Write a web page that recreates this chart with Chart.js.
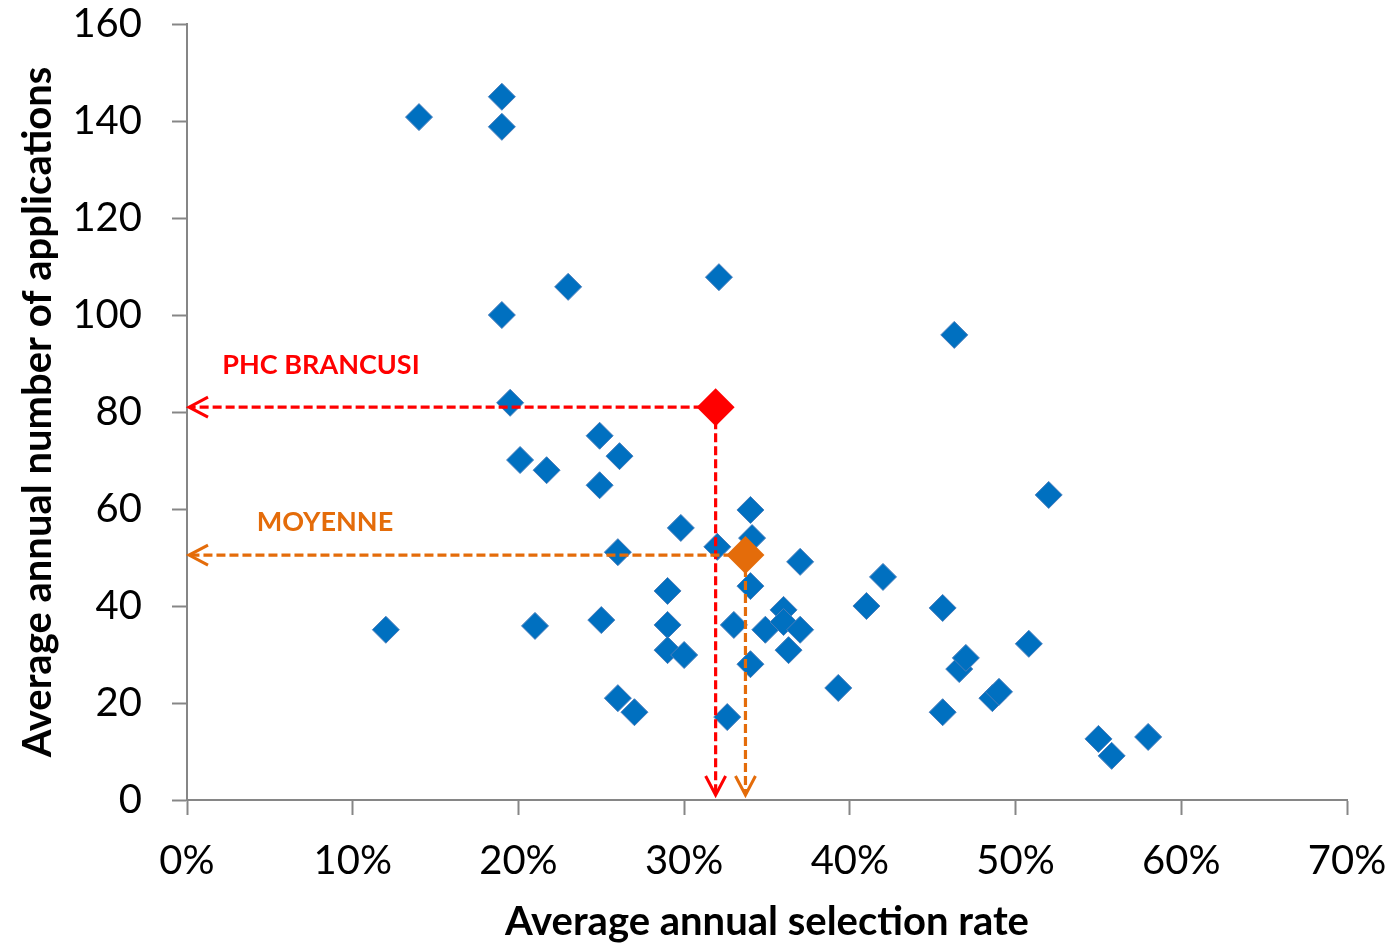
<!DOCTYPE html>
<html>
<head>
<meta charset="utf-8">
<title>Selection rate vs applications</title>
<script src="https://cdn.jsdelivr.net/npm/chart.js@4.4.1/dist/chart.umd.min.js"></script>
<style>
    html, body { margin: 0; padding: 0; background: #fff; }
    #wrap { width: 1399px; height: 946px; }
</style>
</head>
<body>
<div id="wrap"><canvas id="scatterChart" width="1399" height="946"></canvas></div>
<script>
// selection rate (fraction) and number of applications, one entry per programme
const selectionRate = [
    0.120, 0.140, 0.190, 0.190, 0.190, 0.195, 0.201, 0.217, 0.210, 0.230,
    0.249, 0.261, 0.249, 0.250, 0.260, 0.260, 0.270, 0.298, 0.290, 0.290,
    0.290, 0.300, 0.320, 0.321, 0.326, 0.330, 0.340, 0.341, 0.340, 0.340,
    0.349, 0.360, 0.360, 0.363, 0.370, 0.370, 0.393, 0.410, 0.420, 0.463,
    0.456, 0.456, 0.466, 0.470, 0.486, 0.490, 0.508, 0.520, 0.550, 0.558,
    0.580
];
const applications = [
    35.1, 140.8, 145, 138.8, 100, 81.9, 70.1, 68.0, 35.9, 105.8,
    75.1, 70.9, 64.9, 37.1, 51.1, 21.0, 18.1, 56.1, 43.1, 36.1,
    30.9, 29.9, 52.2, 107.8, 17.1, 36.1, 59.8, 54.0, 44.1, 28.0,
    35.1, 39.2, 36.7, 30.9, 35.1, 49.1, 23.1, 40.0, 46.0, 95.9,
    39.6, 18.1, 27.0, 29.3, 21.0, 22.3, 32.2, 62.9, 12.6, 9.1,
    13.0
];

// highlighted points
const highlightNames = ["PHC BRANCUSI", "MOYENNE"];
const highlightRate = [0.319, 0.337];
const highlightApps = [81.0, 50.5];

// axis ticks
const xTickValues = [0, 0.1, 0.2, 0.3, 0.4, 0.5, 0.6, 0.7];
const xTickLabels = ["0%", "10%", "20%", "30%", "40%", "50%", "60%", "70%"];
const yTickValues = [0, 20, 40, 60, 80, 100, 120, 140, 160];
const yTickLabels = ["0", "20", "40", "60", "80", "100", "120", "140", "160"];

const axisColor = "#868686";
const fontFamily = "Lato, 'Open Sans', sans-serif";
const highlightColors = ["#FF0000", "#E46C0A"];
const labelOffsets = [{ dx: 134, dy: -42 }, { dx: 138, dy: -33 }];

const bluePoints = selectionRate.map((r, i) => ({ x: r, y: applications[i] }));
const highlightPoints = highlightRate.map((r, i) => ({ x: r, y: highlightApps[i] }));

function arrowHead(ctx, tx, ty, dirX, dirY) {
    // open chevron pointing in direction (dirX, dirY)
    const len = 19, half = 10;
    const bx = tx - dirX * len, by = ty - dirY * len;
    const px = -dirY, py = dirX;
    ctx.beginPath();
    ctx.moveTo(bx + px * half, by + py * half);
    ctx.lineTo(tx, ty);
    ctx.lineTo(bx - px * half, by - py * half);
    ctx.stroke();
}

const guidePlugin = {
    id: "guides",
    beforeDatasetDraw(chart, args) {
        if (args.index !== 1) return;
        const ctx = chart.ctx;
        const xs = chart.scales.x, ys = chart.scales.y;
        const area = chart.chartArea;
        ctx.save();
        highlightPoints.forEach((p, i) => {
            const px = xs.getPixelForValue(p.x);
            const py = ys.getPixelForValue(p.y);
            ctx.strokeStyle = highlightColors[i];
            ctx.lineWidth = 3.2;
            ctx.setLineDash([9, 4]);
            ctx.beginPath();
            ctx.moveTo(px, py);
            ctx.lineTo(area.left + 3, py);
            ctx.moveTo(px, py);
            ctx.lineTo(px, area.bottom - 6);
            ctx.stroke();
            ctx.setLineDash([]);
            ctx.lineWidth = 3;
            arrowHead(ctx, area.left + 2, py, -1, 0);
            arrowHead(ctx, px, area.bottom - 5, 0, 1);

            ctx.fillStyle = highlightColors[i];
            ctx.font = "bold 27px " + fontFamily;
            ctx.textAlign = "center";
            ctx.textBaseline = "middle";
            ctx.fillText(highlightNames[i], area.left + labelOffsets[i].dx, py + labelOffsets[i].dy);
        });
        ctx.restore();
    }
};

const ctx = document.getElementById("scatterChart").getContext("2d");
const chart = new Chart(ctx, {
    type: "scatter",
    data: {
        datasets: [{
            label: "Programmes",
            data: bluePoints,
            pointStyle: "rectRot",
            pointRadius: 13.5,
            backgroundColor: "#0070C0",
            borderColor: "#4A7EBB",
            borderWidth: 1,
            order: 2
        }, {
            label: "Highlights",
            data: highlightPoints,
            pointStyle: "rectRot",
            pointRadius: 19,
            backgroundColor: highlightColors,
            borderColor: highlightColors,
            borderWidth: 0,
            order: 1
        }]
    },
    options: {
        responsive: false,
        animation: false,
        events: [],
        layout: { padding: { top: 24, right: 52, left: 0, bottom: 0 } },
        plugins: {
            legend: { display: false },
            tooltip: { enabled: false }
        },
        scales: {
            x: {
                type: "linear",
                min: 0,
                max: 0.7,
                afterBuildTicks: (scale) => {
                    scale.ticks = xTickValues.map(v => ({ value: v }));
                },
                afterFit: (scale) => {
                    scale.height = 146;
                    scale.paddingLeft = 0;
                    scale.paddingRight = 0;
                },
                ticks: {
                    color: "#000",
                    font: { family: fontFamily, size: 40 },
                    padding: 22,
                    maxRotation: 0,
                    callback: (v) => xTickLabels[xTickValues.findIndex(t => Math.abs(t - v) < 1e-9)]
                },
                grid: {
                    drawOnChartArea: false,
                    drawTicks: true,
                    tickLength: 15,
                    tickWidth: 2,
                    tickColor: axisColor
                },
                border: { color: axisColor, width: 2 },
                title: {
                    display: true,
                    text: "Average annual selection rate",
                    color: "#000",
                    font: { family: fontFamily, size: 40, weight: "bold" },
                    padding: { top: 0, bottom: 0 }
                }
            },
            y: {
                type: "linear",
                min: 0,
                max: 160,
                afterBuildTicks: (scale) => {
                    scale.ticks = yTickValues.map(v => ({ value: v }));
                },
                afterFit: (scale) => {
                    scale.width = 187;
                    scale.paddingTop = 0;
                    scale.paddingBottom = 0;
                },
                ticks: {
                    color: "#000",
                    font: { family: fontFamily, size: 40 },
                    padding: 30,
                    callback: (v) => yTickLabels[yTickValues.indexOf(v)]
                },
                grid: {
                    drawOnChartArea: false,
                    drawTicks: true,
                    tickLength: 15,
                    tickWidth: 2,
                    tickColor: axisColor
                },
                border: { color: axisColor, width: 2 },
                title: {
                    display: true,
                    text: "Average annual number of applications",
                    color: "#000",
                    font: { family: fontFamily, size: 40, weight: "bold" },
                    padding: { top: 14, bottom: 0 }
                }
            }
        }
    },
    plugins: [guidePlugin]
});
</script>
</body>
</html>
